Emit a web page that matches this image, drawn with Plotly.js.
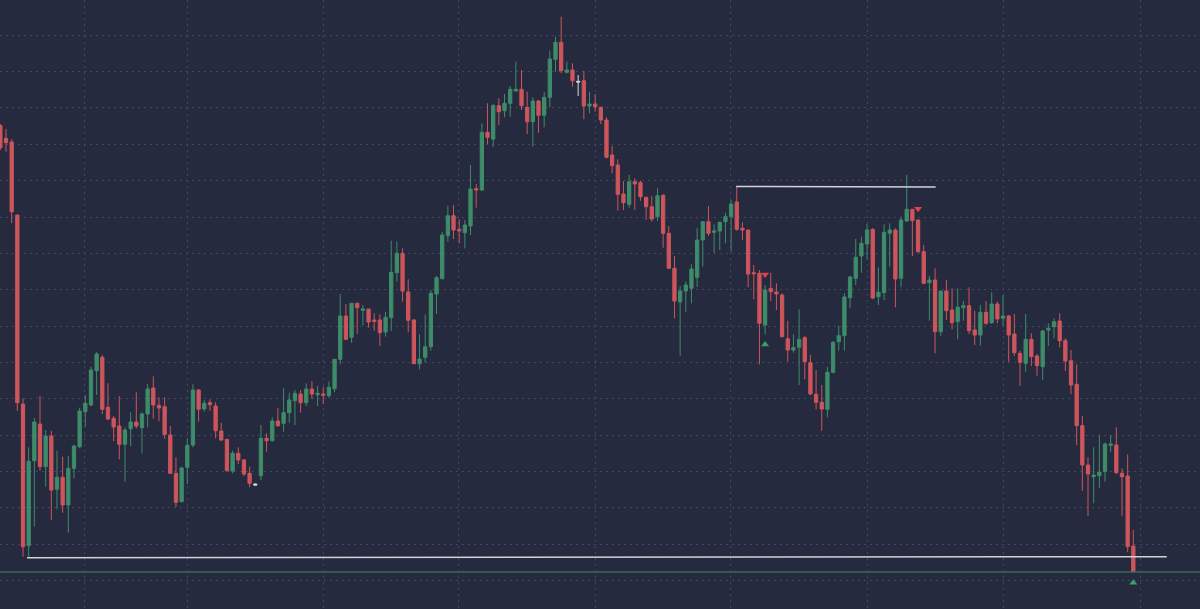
<!DOCTYPE html>
<html>
<head>
<meta charset="utf-8">
<script src="https://cdn.plot.ly/plotly-3.0.1.min.js"></script>
<style>html,body{margin:0;padding:0;background:#262a3f;}#chart{width:1200px;height:609px;}</style>
</head>
<body>
<div id="chart"></div>
<script>
// Price data (arbitrary units), one candle per period
const open = [
474.5,461.7,458,385,196,54.3,139.3,176,133.3,164,
110.7,122.7,95,131.7,153.3,188.3,195,229.3,242.7,192.7,
181.7,174,155.7,171.3,178,172.3,186,212,194.7,193.3,
165,126.7,98.3,132.7,155,210,191,197.3,194,169,
160.7,129,146.7,140,126.7,116,124.3,161.7,159.3,179,
176.7,187.3,199.3,206,197.3,211,205.3,206,204.3,211.3,
240.7,284,262.7,296.7,289.7,291,280,280,268,282.3,
327.3,346.7,308,280,236.3,242.7,253.3,306,321.3,364.3,
384.3,370.7,367.3,374,411.3,410,467.7,461,494.3,489.3,
496.7,509,510.7,492.7,478.3,499,484.7,502.7,540.7,557.7,
527.7,530,518.7,519.3,494,496,492.7,480,445,435,
406,395.7,418.3,417.3,402.7,393.3,383.3,404.7,366.7,331.7,
298,309,311.7,322.7,360,378.3,367.7,369,378.3,383.3,
398,371.7,370,327.3,326.7,275,311.7,308,305,261.3,
250,252.7,262.3,237.3,205.7,197.7,190.7,227.7,258.3,264.3,
302.3,321.7,344,356,370.7,303.3,307.3,366.7,370,321.7,
379,390.7,380,348.3,317.3,320,268.3,309,290,278.3,
292.3,294.3,270,265,287.7,277.3,296,281.7,284,266,
246.7,236.7,260.7,244,233.3,270,273.3,279,259.3,239.3,
215.7,174.3,135,123.3,124.3,128.3,154.7,155,126.7,124,
54];
const high = [
476,471,460.7,385,201.7,152.7,182.3,204,170,169.3,
149.3,143.3,144,155,192.3,205,233.3,247.7,245,216.7,
184,204,172.7,187.7,207.7,187.7,216.3,223.7,202.7,202.7,
174,142.7,133.3,161.3,215.7,211,200,200.7,197.7,177.3,
160.7,149.3,152.7,141,133.3,116.5,175,166.7,182.7,191.7,
211.7,207.3,210,210,216.7,219,214,213.3,218.3,240.7,
306,296,296.7,297.3,295,291,286.7,285.7,288.3,359.3,
358.3,351.7,320.7,281,265.7,285.7,310,324,368.3,394.3,
395,380.7,380,435,416,476.7,496.7,496,501.7,506,
514,538.3,530,508.3,502.7,500,508,549.3,563.3,583.3,
538.3,536.7,525,529,508.3,506,493.3,482.7,454,440.7,
419,425,421.7,419.3,402.7,404.3,411.7,405.7,374,344,
314,318.3,335.7,372.3,378.3,394,375.7,377.7,387.3,400,
413.3,377.7,370,335,330,315,327.3,316.7,306.7,279.3,
265.7,290.7,264,245,230,215,233.3,259,274.3,306.7,
324,361,363.3,376,371.7,332.7,375.7,376.7,371.7,383.3,
425,390.7,380.7,355,324,331.7,309,320,311.7,311.7,
299,312.7,289.3,295,299,307.7,298.3,305,285,286,
249.3,286,266.7,246,270,276.7,281.7,286.7,261.7,250,
235.7,184,142.7,152.7,165,157.3,165,172.7,131.7,145.7,
70];
const low = [
450,448.3,376.7,189.3,43.3,43.3,73.3,129.3,113.3,80,
90.7,87.3,67.3,121.7,151.7,173.3,194,205,186,180,
159,140.7,118.3,154,171.7,146.7,172.7,181.3,178.7,161.3,
126,93.3,97.7,116,152.7,178.3,188.3,189.3,161.7,159,
128.5,126.7,136,124,112.7,114.5,120,148.3,158.5,173.3,
168.3,177.3,175,187.3,194,201,194,196,202.3,207.7,
235.7,260,257.3,266,274.3,272.3,269.3,254,263.3,269,
318.3,298.3,267.7,236,230.7,237.3,249.3,286,320.7,358.3,
361,356.7,351.7,365,392.3,409,456,453.3,475,482.7,
483.3,508.3,490,466,453.3,467.3,472.7,492.7,528.3,526.7,
526.7,513.3,504,480.7,486.7,488.3,476,441.7,426.7,389.3,
390,392.3,390,399.3,380,378.3,379.3,352.3,331,281.7,
244,288.3,296.7,313,333.3,364,347.3,350,356.7,348.3,
369.3,360,312.7,300.7,235.7,265.7,299,290,262.5,238.3,
247.3,215,220.7,205,190.7,169.3,182.7,226.7,249.3,249.3,
291.7,315,327.3,340.7,300.7,295,300,333.3,292.7,312.7,
378.3,344,347.3,315.7,279.3,246.7,264.3,280,270.7,260.7,
279.3,266,255,254.3,275,276,276.7,274.3,238.3,244,
214.3,228.3,234,224.3,220,254,261.7,252.7,229,206,
155,109,84,96.7,111.7,118.3,147.7,126,84.3,47.7,
28];
const close = [
452.3,457.3,388.3,197.3,53.3,138.7,178,133.3,164,110,
122.7,95,131.7,154,189,196.7,230,246,190.7,181,
173,155.7,170,178,174,186,211,195,192,165.7,
126.7,97.7,132,154.7,210,190.7,196.7,195.3,169.3,160,
129.3,146.7,140,126,116.7,115,161.7,159.3,179,174.3,
187.3,200,206.7,197.3,211,206,206.7,204.7,212.7,240.7,
284,260.7,296.7,292.3,291,278,278.7,267.3,282.7,327.7,
346.7,309,279.7,236.3,241,253.3,306.7,322.3,365,384.3,
370,369,375,411,410,467.7,462.7,494.3,488.3,496.7,
510.7,510.7,494.3,478.3,499,484.7,502.7,541,557.7,529.3,
530,519.3,518,494,496,493.3,480,442.7,434.3,405.7,
397.3,418.3,416,403.3,393.3,381,404.3,366.7,331.7,299,
309,315,331,360,378.3,366.7,369,377.7,383.3,396,
370.7,370,326,326.3,276.7,310,308.3,306,263.3,250,
252.3,260.7,238.3,206,197.7,191,227.7,257.7,264.3,303,
323,342.7,356.7,370,302,307.7,367.7,370,321,380,
390.7,379.3,348.3,316.7,320,268.3,309,289.3,277.3,292.7,
294.3,269.3,265,287.7,276.7,296,281,284,265,247.3,
237.7,260.7,243.3,234.3,269,271.7,278.3,259.3,239,215,
174.3,135,126,125,127.7,156,156,127.3,123.3,53.3,
28.3];

// candles drawn in neutral (white) colour
const neutralIdx = [45, 102];

// signal markers (candle index, price)
const sellX = [135, 162];
const sellY = [325.5, 391.3];
const buyX = [135, 200];
const buyY = [255.5, 17.2];

// drawn levels
const resistX = [129.9, 165.1];
const resistY = [413.5, 413];
const supportX = [4.7, 205.9];
const supportY = [42.3, 43.3];
const lastPrice = 28;

// vertical grid (session boundaries, candle index)
const gridIdx = [14.82, 33, 57, 80.85, 105, 128.9, 153, 177, 201.2];

const GREEN = '#3e8c69', RED = '#cd555c', NEUTRAL = '#d6d6de';

const idx = open.map((_, i) => i);
const isNeutral = i => neutralIdx.includes(i);
const pick = (arr, keep) => idx.filter(keep).map(i => arr[i]);
const mainKeep = i => !isNeutral(i);

const traces = [
  {
    type: 'candlestick',
    x: pick(idx, mainKeep), open: pick(open, mainKeep), high: pick(high, mainKeep),
    low: pick(low, mainKeep), close: pick(close, mainKeep),
    increasing: {line: {color: GREEN, width: 1}, fillcolor: GREEN},
    decreasing: {line: {color: RED, width: 1}, fillcolor: RED},
    whiskerwidth: 0, hoverinfo: 'none'
  },
  {
    type: 'candlestick',
    x: pick(idx, isNeutral), open: pick(open, isNeutral), high: pick(high, isNeutral),
    low: pick(low, isNeutral), close: pick(close, isNeutral),
    increasing: {line: {color: NEUTRAL, width: 1}, fillcolor: NEUTRAL},
    decreasing: {line: {color: NEUTRAL, width: 1}, fillcolor: NEUTRAL},
    whiskerwidth: 0, hoverinfo: 'none'
  },
  {type: 'scatter', mode: 'lines', x: [-1, 215], y: [lastPrice, lastPrice],
   line: {color: '#2e6e56', width: 1.5}, hoverinfo: 'none'},
  {type: 'scatter', mode: 'lines', x: supportX, y: supportY,
   line: {color: '#d2d2da', width: 1.5}, hoverinfo: 'none'},
  {type: 'scatter', mode: 'lines', x: resistX, y: resistY,
   line: {color: '#d2d2da', width: 1.5}, hoverinfo: 'none'},
  {type: 'scatter', mode: 'markers', x: sellX, y: sellY,
   marker: {symbol: 'triangle-down', size: 7, color: '#e0404c'}, hoverinfo: 'none'},
  {type: 'scatter', mode: 'markers', x: buyX, y: buyY,
   marker: {symbol: 'triangle-up', size: 7, color: '#3f9e63'}, hoverinfo: 'none'}
];

const layout = {
  width: 1200, height: 609,
  margin: {l: 0, r: 0, t: 0, b: 0, pad: 0},
  paper_bgcolor: '#262a3f', plot_bgcolor: '#262a3f',
  showlegend: false,
  boxgap: 0.42, boxgroupgap: 0,
  xaxis: {
    range: [-0.06, 211.77], rangeslider: {visible: false},
    tickmode: 'array', tickvals: gridIdx, showticklabels: false, ticks: '',
    showgrid: true, gridcolor: '#41465f', griddash: '2px,4px', gridwidth: 1,
    zeroline: false, showline: false, fixedrange: true
  },
  yaxis: {
    range: [-9, 600], tick0: 55.7, dtick: 36.36, showticklabels: false, ticks: '',
    showgrid: true, gridcolor: '#41465f', griddash: '2px,4px', gridwidth: 1,
    zeroline: false, showline: false, fixedrange: true
  }
};

Plotly.newPlot('chart', traces, layout, {staticPlot: true, displayModeBar: false});
</script>
</body>
</html>
